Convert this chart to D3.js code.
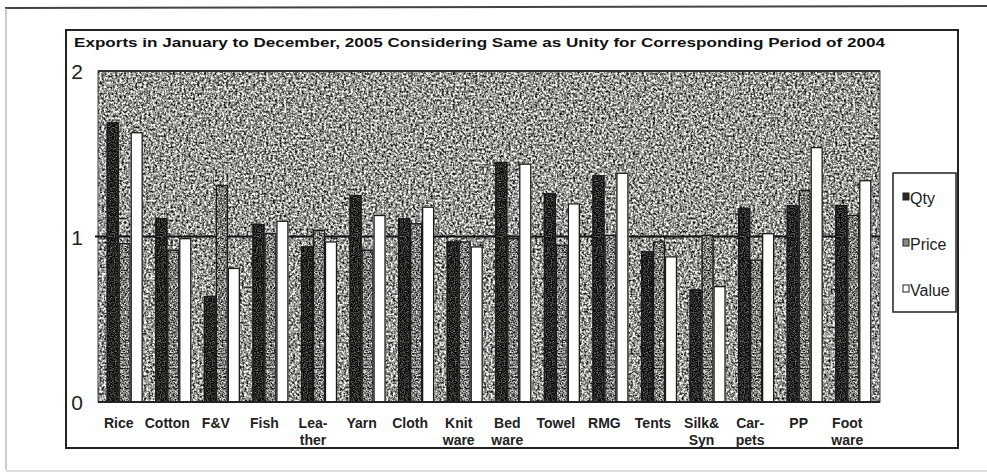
<!DOCTYPE html>
<html>
<head>
<meta charset="utf-8">
<script src="https://cdn.jsdelivr.net/npm/d3@7"></script>
<style>
  html, body { margin: 0; padding: 0; background: #ffffff; }
  svg { display: block; }
</style>
</head>
<body>
<svg id="chart" width="987" height="475"></svg>
<script>
// ---- data ----
const categories = ["Rice","Cotton","F&V","Fish","Leather","Yarn","Cloth","Knitware","Bedware","Towel","RMG","Tents","Silk&Syn","Carpets","PP","Footware"];
const categoryLabels = [["Rice"],["Cotton"],["F&V"],["Fish"],["Lea-","ther"],["Yarn"],["Cloth"],["Knit","ware"],["Bed","ware"],["Towel"],["RMG"],["Tents"],["Silk&","Syn"],["Car-","pets"],["PP"],["Foot","ware"]];
const seriesNames = ["Qty","Price","Value"];
const qty   = [1.69,1.11,0.64,1.075,0.94,1.25,1.11,0.97,1.45,1.26,1.37,0.91,0.68,1.17,1.19,1.19];
const price = [0.96,0.92,1.31,1.02,1.04,0.92,1.08,0.97,0.99,0.95,1.01,0.97,1.01,0.86,1.28,1.13];
const value = [1.63,0.99,0.81,1.095,0.97,1.13,1.18,0.94,1.44,1.20,1.385,0.88,0.70,1.02,1.54,1.34];
const yTicks = [0,1,2];
const titleText = "Exports in January to December, 2005 Considering Same as Unity for Corresponding Period of 2004";

const seriesData = [qty, price, value];

// ---- layout ----
const svg = d3.select("#chart");
const plot = {left: 98, right: 880, top: 71, bottom: 402};

const defs = svg.append("defs");
function noiseFilter(id, freq, octaves, gain, offset, seed) {
  const f = defs.append("filter").attr("id", id)
    .attr("x", 0).attr("y", 0).attr("width", 1).attr("height", 1)
    .attr("color-interpolation-filters", "sRGB");
  f.append("feTurbulence").attr("type", "fractalNoise")
    .attr("baseFrequency", freq).attr("numOctaves", octaves).attr("seed", seed).attr("result", "n");
  f.append("feColorMatrix").attr("in", "n").attr("type", "matrix")
    .attr("values", `${gain} 0 0 0 ${offset}  ${gain} 0 0 0 ${offset + 0.01}  ${gain} 0 0 0 ${offset - 0.01}  0 0 0 0 1`)
    .attr("result", "g");
  f.append("feComposite").attr("in", "g").attr("in2", "SourceGraphic").attr("operator", "in");
}
noiseFilter("bgNoise", 0.45, 4, 1.9, -0.36, 3);
noiseFilter("priceNoise", 0.6, 3, 1.8, -0.42, 7);
noiseFilter("qtyNoise", 0.8, 3, 1.0, -0.36, 11);

// outer page frame
svg.append("line").attr("x1", 5).attr("x2", 987).attr("y1", 8).attr("y2", 6)
  .attr("stroke", "#444").attr("stroke-width", 2);
svg.append("line").attr("x1", 6).attr("x2", 6).attr("y1", 8).attr("y2", 470)
  .attr("stroke", "#999").attr("stroke-width", 1);
svg.append("line").attr("x1", 6).attr("x2", 987).attr("y1", 471).attr("y2", 471)
  .attr("stroke", "#bbb").attr("stroke-width", 1);

// chart frame
svg.append("rect").attr("x", 66).attr("y", 30).attr("width", 892).attr("height", 418)
  .attr("fill", "#fff").attr("stroke", "#222").attr("stroke-width", 2);

// title
svg.append("text").attr("x", 74).attr("y", 47)
  .attr("font-family", "Liberation Sans, Arial, sans-serif")
  .attr("font-weight", "bold").attr("font-size", 13)
  .attr("textLength", 811).attr("lengthAdjust", "spacingAndGlyphs")
  .attr("fill", "#111").text(titleText);

// scales
const y = d3.scaleLinear().domain([0, 2]).range([plot.bottom, plot.top]);
const x0 = d3.scaleBand().domain(categories).range([plot.left, plot.right])
  .paddingInner(0.26).paddingOuter(0.18);
const x1 = d3.scaleBand().domain(seriesNames).range([0, x0.bandwidth()]);

// plot background
svg.append("rect").attr("x", plot.left).attr("y", plot.top)
  .attr("width", plot.right - plot.left).attr("height", plot.bottom - plot.top)
  .attr("fill", "#999").attr("filter", "url(#bgNoise)");
svg.append("rect").attr("x", plot.left).attr("y", plot.top)
  .attr("width", plot.right - plot.left).attr("height", plot.bottom - plot.top)
  .attr("fill", "none").attr("stroke", "#444").attr("stroke-width", 1);
svg.append("line").attr("x1", plot.left).attr("x2", plot.right)
  .attr("y1", y(2)).attr("y2", y(2)).attr("stroke", "#333").attr("stroke-width", 2);

// unity line
svg.append("line").attr("x1", plot.left - 3).attr("x2", plot.right)
  .attr("y1", y(1)).attr("y2", y(1)).attr("stroke", "#111").attr("stroke-width", 2);

// bars
const fills = {Qty: "#2a2a2a", Price: "#8a8a8a", Value: "#ffffff"};
const filters = {Qty: "url(#qtyNoise)", Price: "url(#priceNoise)", Value: null};
const groups = svg.append("g").selectAll("g").data(categories).join("g")
  .attr("transform", d => `translate(${x0(d)},0)`);
groups.each(function(cat, i) {
  const g = d3.select(this);
  seriesNames.forEach((s, k) => {
    const v = seriesData[k][i];
    const r = g.append("rect")
      .attr("x", x1(s)).attr("width", x1.bandwidth())
      .attr("y", y(v)).attr("height", y(0) - y(v))
      .attr("fill", fills[s]);
    if (filters[s]) r.attr("filter", filters[s]);
    g.append("rect")
      .attr("x", x1(s) + 0.5).attr("width", x1.bandwidth() - 1)
      .attr("y", y(v) + 0.5).attr("height", y(0) - y(v) - 0.5)
      .attr("fill", "none").attr("stroke", "#1a1a1a").attr("stroke-width", 1.3);
  });
});

// x axis baseline
svg.append("line").attr("x1", plot.left).attr("x2", plot.right)
  .attr("y1", y(0)).attr("y2", y(0)).attr("stroke", "#222").attr("stroke-width", 2);

// y axis labels
const yAxis = svg.append("g").attr("transform", `translate(${plot.left - 12},0)`)
  .call(d3.axisLeft(y).tickValues(yTicks).tickSize(0).tickFormat(d3.format("d")));
yAxis.select(".domain").remove();
yAxis.selectAll("text")
  .attr("font-family", "Liberation Sans Narrow, Liberation Sans, Arial, sans-serif")
  .attr("font-size", 21).attr("fill", "#222").attr("dy", "0.36em");

// category labels
const lab = svg.append("g");
categories.forEach((c, i) => {
  const cx = x0(c) + x0.bandwidth() / 2 - 6;
  const t = lab.append("text").attr("x", cx).attr("y", 428)
    .attr("text-anchor", "middle")
    .attr("font-family", "Liberation Sans, Arial, sans-serif")
    .attr("font-weight", "bold").attr("font-size", 14).attr("fill", "#222");
  categoryLabels[i].forEach((line, j) => {
    t.append("tspan").attr("x", cx).attr("dy", j === 0 ? 0 : 17).text(line);
  });
});

// legend
const lg = svg.append("g");
lg.append("rect").attr("x", 893).attr("y", 173).attr("width", 63).attr("height", 139)
  .attr("fill", "#fff").attr("stroke", "#222").attr("stroke-width", 1.5);
const legendY = d3.scalePoint().domain(seriesNames).range([198, 290]);
seriesNames.forEach(s => {
  const ly = legendY(s);
  lg.append("rect").attr("x", 903).attr("y", ly - 5).attr("width", 6).attr("height", 7)
    .attr("fill", fills[s]).attr("stroke", "#222").attr("stroke-width", 1);
  lg.append("text").attr("x", 910).attr("y", ly + 6)
    .attr("font-family", "Liberation Sans Narrow, Liberation Sans, Arial, sans-serif")
    .attr("font-size", 16).attr("fill", "#222").text(s);
});
</script>
</body>
</html>
